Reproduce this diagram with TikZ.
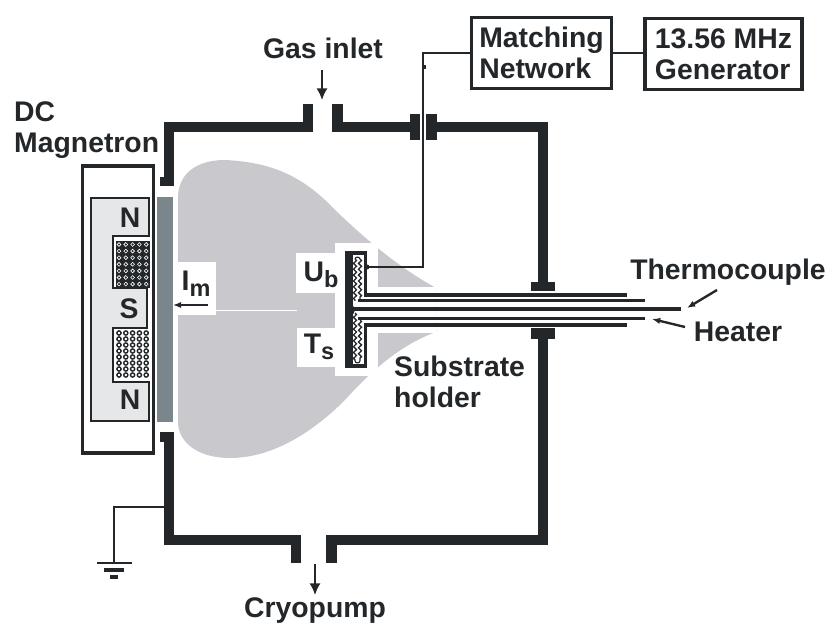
\documentclass[tikz,border=0pt]{standalone}
\usepackage{fontspec}
\setmainfont{Liberation Sans}
\usetikzlibrary{decorations.pathmorphing, arrows.meta}
\definecolor{ink}{RGB}{35, 39, 42}
\definecolor{plasma}{RGB}{200, 200, 205}
\definecolor{magnet}{RGB}{230, 231, 233}
\definecolor{target}{RGB}{122, 134, 140}
\newcommand{\lowered}[1]{\raisebox{-0.22em}{\fontsize{20}{20}\selectfont #1}}
\tikzset{
  wall/.style = {ink, line width = 8.8pt},
  wire/.style = {ink, line width = 2.4pt},
  tube/.style = {ink, line width = 3.3pt},
  lbl/.style = {text = ink, inner sep = 0pt, font = \fontsize{24.2}{26.6}\selectfont\bfseries, align = left},
  boxed/.style = {lbl, draw = ink, line width = 2.6pt, fill = white, minimum height = 61pt, inner sep = 0pt},
  gap/.style = {fill = white, draw = none},
  flow/.style = {ink, line width = 2pt, -{Latex[length = 7pt, width = 5.5pt]}},
  bigflow/.style = {ink, line width = 1.4pt, -{Latex[length = 10pt, width = 9.5pt]}},
  heatcoil/.style = {ink, line width = 1.1pt, decorate, decoration = {zigzag, segment length = 5pt, amplitude = 1.3pt}}
}
\begin{document}
\begin{tikzpicture}[x = 0.03cm, y = -0.03cm]
\useasboundingbox (0,0) rectangle (830,626);
% plasma
\fill[plasma] (178,200) .. controls (177,175) and (195,160) .. (225,160) .. controls (265,162) and (295,172) .. (325,200) .. controls (365,240) and (400,268) .. (436,288) -- (436,332) .. controls (400,345) and (370,372) .. (345,400) .. controls (310,435) and (270,458) .. (230,458) .. controls (195,458) and (177,440) .. (178,420) -- cycle;
\fill[gap] (378,287) rectangle (436,333);
\fill[gap] (335,243) rectangle (378,376);
\fill[gap] (173,262) rectangle (216,315);
\fill[gap] (296,253) rectangle (336,293);
\fill[gap] (297,328) rectangle (336,367);
\draw[white, line width = 0.6pt] (216,310) -- (297,310);
% chamber
\draw[wall] (308,104) -- (308,127) -- (169,127) -- (169,186);
\fill[ink] (160,177) rectangle (174,186);
\draw[wall] (337.5,104) -- (337.5,127) -- (415,127);
\fill[ink] (410,114) rectangle (420,140);
\fill[ink] (426,114) rectangle (437,140);
\draw[wall] (431,127) -- (543,127) -- (543,285);
\fill[ink] (531,282) rectangle (555,291);
\fill[ink] (531,328) rectangle (555,339);
\draw[wall] (543,332) -- (543,540) -- (331.5,540) -- (331.5,563);
\draw[wall] (169,442) -- (169,540) -- (296,540) -- (296,563);
\fill[ink] (160,432) rectangle (174,442);
% magnetron
\draw[ink, line width = 2.6pt] (82.5,166) rectangle (153.5,453);
\draw[ink, line width = 1.4pt, fill = magnet] (91,198) -- (149,198) -- (149,236) -- (113,236) -- (113,288) -- (147,288) -- (147,328) -- (113,328) -- (113,382) -- (149,382) -- (149,421) -- (91,421) -- cycle;
\fill[ink] (115.5,241) rectangle (149.5,288);
\foreach \cx in {0,...,4} \foreach \cy in {0,...,6} {
  \draw[white, line width = 0.5pt] (119+\cx*6.8,244.5+\cy*6.6) circle (1.9);
}
\fill[white] (115.5,330) rectangle (149.5,378);
\foreach \cx in {0,...,4} \foreach \cy in {0,...,7} {
  \draw[ink, line width = 1.2pt] (119+\cx*6.8,333+\cy*6) circle (2.1);
}
\fill[target] (157,197) rectangle (173,422);
% substrate holder
\draw[heatcoil] (355,259) -- (355,301);
\draw[heatcoil] (360,259) -- (360,299);
\draw[heatcoil] (355,313) -- (355,361);
\draw[heatcoil] (360,320) -- (360,361);
\draw[ink, line width = 1pt] (355,259) .. controls (355.5,256.5) and (359.5,256.5) .. (360,259);
\draw[ink, line width = 1pt] (355,361) .. controls (355.5,363.5) and (359.5,363.5) .. (360,361);
\fill[ink] (345,251) rectangle (367,255);
\fill[ink] (345,364) rectangle (367,368);
\fill[ink] (345,251) rectangle (352.5,368);
\fill[ink] (363.5,251) rectangle (367,297);
\fill[ink] (363.5,323) rectangle (367,368);
\fill[ink] (350,310) circle (5);
\coordinate (feed) at (367,267);
\fill[ink] (feed) circle (2.5);
\draw[tube] (365,295) -- (627,295);
\draw[tube] (358,300.5) -- (645,300.5);
\draw[tube] (350,309) -- (681,309);
\draw[tube] (358,318.5) -- (645,318.5);
\draw[tube] (365,325) -- (627,325);
% rf supply
\node[boxed, minimum width = 120pt] (matching) at (541.5,53) {Matching\\Network};
\node[boxed, minimum width = 134pt] (generator) at (723.5,54) {13.56 MHz\\Generator};
\draw[wire] (matching.east |- 0,53) -- (generator.west |- 0,53);
\draw[wire] (matching.west |- 0,53) -- (423,53) -- (423,267) -- (feed);
\fill[ink] (423,65) rectangle (425.5,69);
% labels
\node[lbl] (gas) at (323,48) {Gas inlet};
\coordinate (gasin) at (322,100);
\draw[bigflow] (322,70) -- (gasin);
\node[lbl, anchor = west] (dc) at (14,130) {DC\\Magnetron};
\node[lbl] (north) at (130,218) {N};
\node[lbl] (south) at (129,309) {S};
\node[lbl] (northb) at (130,400) {N};
\node[lbl] (im) at (196,284) {I\lowered{m}};
\coordinate (imend) at (173,305);
\draw[flow] (208,305) -- (imend);
\node[lbl] (ub) at (321,275) {U\lowered{b}};
\node[lbl] (ts) at (319,347) {T\lowered{s}};
\node[lbl, anchor = north west] (holder) at (394,356) {Substrate\\holder};
\node[lbl] (thermo) at (728,272) {Thermocouple};
\node[lbl] (heater) at (738,332) {Heater};
\coordinate (thermoend) at (687,308);
\coordinate (heaterend) at (652,319);
\draw[flow] (717,290) -- (thermoend);
\draw[flow] (685,327) -- (heaterend);
\node[lbl] (cryo) at (315,611) {Cryopump};
\coordinate (cryoend) at (315,595);
\draw[bigflow] (315,564) -- (cryoend);
% ground
\coordinate (earth) at (114,563);
\draw[wire] (165,507) -- (114,507) -- (earth);
\draw[ink, line width = 1.8pt] (97,563) -- (132,563);
\draw[ink, line width = 2.6pt] (104,570) -- (124,570);
\draw[ink, line width = 2.6pt] (110,577) -- (118,577);
\end{tikzpicture}
\end{document}
